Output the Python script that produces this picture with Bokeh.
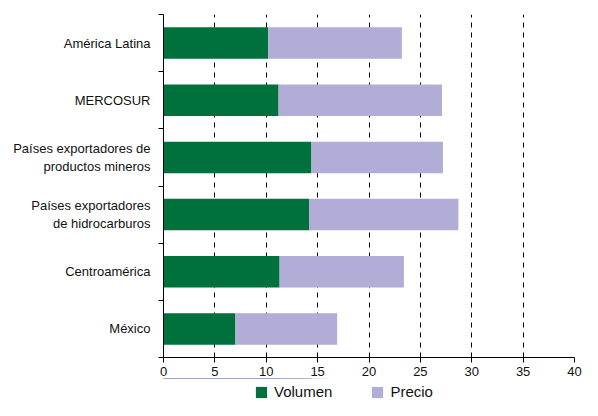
from bokeh.plotting import figure
from bokeh.models import ColumnDataSource, FixedTicker, Range1d, Legend
from bokeh.layouts import column
from bokeh.embed import file_html
from bokeh.resources import INLINE

categories = ["América Latina", "MERCOSUR", "Países exportadores de\nproductos mineros",
              "Países exportadores\nde hidrocarburos", "Centroamérica", "México"]
volumen = [10.2, 11.2, 14.4, 14.2, 11.3, 7.0]
precio = [13.0, 15.9, 12.8, 14.5, 12.1, 9.9]
series = ["Volumen", "Precio"]
x_ticks = [0, 5, 10, 15, 20, 25, 30, 35, 40]

n = len(categories)
ypos = [n - i - 0.5 for i in range(n)]
src = ColumnDataSource(dict(y=ypos, Volumen=volumen, Precio=precio))

GREEN = "#00703C"
LAV = "#B1ADD6"
COLORS = [GREEN, LAV]
FONT = "Liberation Sans"

p = figure(width=582, height=378, output_backend="svg", toolbar_location=None,
           x_range=Range1d(0, 40), y_range=Range1d(0, n),
           min_border_left=163, min_border_right=8, min_border_top=14, min_border_bottom=0)
p.outline_line_color = None

p.hbar_stack(series, y="y", height=0.55, color=COLORS, line_color=None, source=src)

# x axis
p.xaxis.ticker = FixedTicker(ticks=x_ticks)
p.xaxis.axis_line_color = "black"
p.xaxis.major_tick_line_color = "black"
p.xaxis.major_tick_out = 5
p.xaxis.major_tick_in = 0
p.xaxis.minor_tick_line_color = None
p.xaxis.major_label_text_font = FONT
p.xaxis.major_label_text_font_size = "13px"
p.xaxis.major_label_text_color = "#111111"
p.xaxis.major_label_standoff = 4

# y axis
p.yaxis.ticker = FixedTicker(ticks=ypos, minor_ticks=list(range(0, n + 1)))
p.yaxis.major_label_overrides = {y: c for y, c in zip(ypos, categories)}
p.yaxis.axis_line_color = "black"
p.yaxis.major_tick_line_color = None
p.yaxis.major_tick_out = 0
p.yaxis.major_tick_in = 0
p.yaxis.minor_tick_line_color = "black"
p.yaxis.minor_tick_out = 5
p.yaxis.minor_tick_in = 0
p.yaxis.major_label_text_font = FONT
p.yaxis.major_label_text_font_size = "13px"
p.yaxis.major_label_text_color = "#111111"
p.yaxis.major_label_standoff = 8

p.ygrid.grid_line_color = None
p.xgrid.ticker = FixedTicker(ticks=x_ticks[1:])
p.xgrid.grid_line_color = "black"
p.xgrid.grid_line_dash = "5 5"
p.xgrid.grid_line_width = 1

# legend strip below the chart (its bars fall outside its own view; only the legend shows)
lg = figure(width=582, height=24, output_backend="svg", toolbar_location=None,
            x_axis_type=None, y_axis_type=None, x_range=Range1d(0, 40),
            y_range=Range1d(-2 * n, -n), min_border=0)
lg.outline_line_color = None
lg.grid.visible = False
items = []
for name, col in zip(series, COLORS):
    rr = lg.hbar(y="y", right=name, height=0.55, color=col, line_color=None, source=src)
    items.append((name, [rr]))
legend = Legend(items=items, orientation="horizontal", location=(91, 2),
                border_line_color=None, background_fill_alpha=0,
                label_text_font=FONT, label_text_font_size="15px", label_text_color="#111111",
                glyph_width=14, glyph_height=14, label_standoff=6, spacing=38,
                padding=2, margin=0)
lg.add_layout(legend, "center")

open("out.html", "w").write(file_html(column(p, lg, spacing=0), INLINE))
